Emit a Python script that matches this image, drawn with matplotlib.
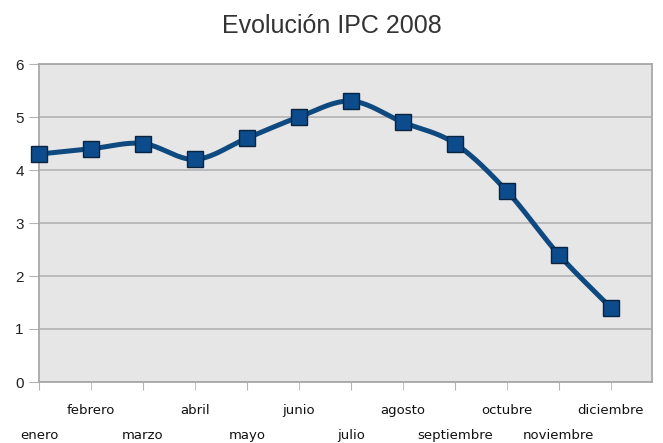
import numpy as np
import matplotlib
matplotlib.use('Agg')
import matplotlib.pyplot as plt

# datos
meses = ['enero', 'febrero', 'marzo', 'abril', 'mayo', 'junio',
         'julio', 'agosto', 'septiembre', 'octubre', 'noviembre', 'diciembre']
ipc = [4.3, 4.4, 4.5, 4.2, 4.6, 5.0, 5.3, 4.9, 4.5, 3.6, 2.4, 1.4]
y_ticks = [0, 1, 2, 3, 4, 5, 6]


def suavizar(x, y, n=20):
    # curva Catmull-Rom para dibujar la linea suavizada
    x = np.asarray(x, float)
    y = np.asarray(y, float)
    px = np.concatenate([[2 * x[0] - x[1]], x, [2 * x[-1] - x[-2]]])
    py = np.concatenate([[2 * y[0] - y[1]], y, [2 * y[-1] - y[-2]]])
    xs, ys = [], []
    t = np.linspace(0, 1, n, endpoint=False)
    for i in range(1, len(px) - 2):
        for p, out in ((px, xs), (py, ys)):
            p0, p1, p2, p3 = p[i - 1], p[i], p[i + 1], p[i + 2]
            out.extend(0.5 * (2 * p1 + (-p0 + p2) * t
                              + (2 * p0 - 5 * p1 + 4 * p2 - p3) * t ** 2
                              + (-p0 + 3 * p1 - 3 * p2 + p3) * t ** 3))
    xs.append(x[-1])
    ys.append(y[-1])
    return np.array(xs), np.array(ys)


plt.rcParams['font.family'] = ['Liberation Sans', 'DejaVu Sans']

fig = plt.figure(figsize=(6.63, 4.43), dpi=100)
ax = fig.add_axes([39 / 663, 61 / 443, 613 / 663, 318 / 443])
ax.set_facecolor('#e6e6e6')

x = np.arange(len(meses))
xs, ys = suavizar(x, ipc)
ax.plot(xs, ys, color='#0e4a80', linewidth=3.6, solid_capstyle='round', zorder=3)
ax.plot(x, ipc, linestyle='none', marker='s', markersize=11.5,
        markerfacecolor='#0c4b8c', markeredgecolor='#0a2440',
        markeredgewidth=1.0, zorder=4, clip_on=False)

ax.set_xlim(0, 11.79)
ax.set_ylim(0, 6)
ax.set_yticks(y_ticks)
ax.yaxis.grid(True, color='#b3b3b3', linewidth=1.2)
ax.set_axisbelow(True)

# etiquetas alternadas en dos filas
ax.set_xticks(x[::2])
ax.set_xticklabels(meses[::2])
ax.set_xticks(x[1::2], minor=True)
ax.set_xticklabels(meses[1::2], minor=True)
ax.tick_params(axis='x', which='major', length=6, pad=28, color='#b3b3b3',
               labelsize=9.5, labelcolor='#111111')
ax.tick_params(axis='x', which='minor', length=6, pad=10, color='#b3b3b3',
               labelsize=9.5, labelcolor='#111111')
for lbl in ax.get_xticklabels(which='both'):
    lbl.set_family('DejaVu Sans')
ax.tick_params(axis='y', length=7, pad=4, color='#b3b3b3',
               labelsize=11, labelcolor='#222222')

for s in ax.spines.values():
    s.set_color('#a8a8a8')
    s.set_linewidth(1.3)

fig.suptitle('Evolución IPC 2008', y=0.968, fontsize=18, color='#333333')

fig.savefig('out.png', dpi=100)
